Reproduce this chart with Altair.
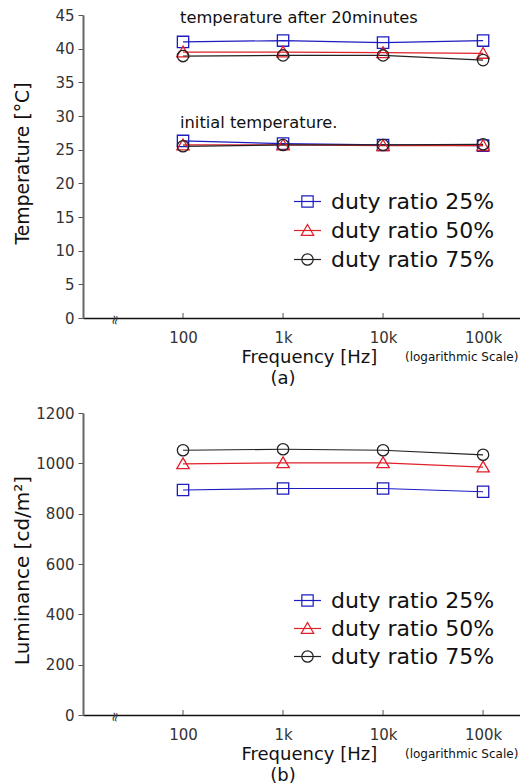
import altair as alt
import pandas as pd

# Frequencies (Hz) and their tick labels
freqs = [100, 1000, 10000, 100000]
freq_labels = ["100", "1k", "10k", "100k"]

series = ["duty ratio 25%", "duty ratio 50%", "duty ratio 75%"]
colors = ["#1c1cc0", "#e0202a", "#222222"]

# Open marker outlines as SVG paths in the [-1, 1] symbol box
marker_paths = [
    "M-0.42,-0.42H0.42V0.42H-0.42Z",
    "M-0.46,0.36L0,-0.44L0.46,0.36Z",
    "M-0.42,0A0.42,0.42,0,1,1,0.42,0A0.42,0.42,0,1,1,-0.42,0Z",
]

# Panel (a): temperature [deg C]
temp_after_25 = [41.0, 41.2, 40.9, 41.2]
temp_after_50 = [39.5, 39.5, 39.4, 39.3]
temp_after_75 = [38.9, 39.0, 39.0, 38.3]
temp_init_25 = [26.3, 25.9, 25.7, 25.6]
temp_init_50 = [25.7, 25.7, 25.6, 25.6]
temp_init_75 = [25.5, 25.7, 25.7, 25.8]

# Panel (b): luminance [cd/m2]
lum_25 = [894, 900, 900, 887]
lum_50 = [998, 1002, 1002, 985]
lum_75 = [1052, 1056, 1052, 1034]

notes = ["temperature after 20minutes", "initial temperature."]
note_values = [44.5, 28.9]

W = 437
H_A = 303
H_B = 302
FONT = "DejaVu Sans"
X_DOMAIN = [10, 234000]


def rows(stage, lists):
    out = []
    for name, vals in zip(series, lists):
        for f, v in zip(freqs, vals):
            out.append({"freq": f, "value": v, "series": name, "stage": stage})
    return out


temp_df = pd.DataFrame(
    rows("after", [temp_after_25, temp_after_50, temp_after_75])
    + rows("initial", [temp_init_25, temp_init_50, temp_init_75])
)
lum_df = pd.DataFrame(rows("steady", [lum_25, lum_50, lum_75]))

label_expr = (
    "[" + ",".join("'%s'" % s for s in freq_labels) + "]"
    + "[indexof([" + ",".join(str(f) for f in freqs) + "], datum.value)]"
)


def legend(legend_y, row_pad, show_labels):
    return alt.Legend(
        orient="none",
        legendX=210,
        legendY=legend_y,
        title=None,
        labelFont=FONT,
        labelFontSize=22,
        labelColor="#111111",
        labelOpacity=1 if show_labels else 0,
        labelOffset=9,
        labelLimit=400,
        symbolSize=729,
        symbolStrokeWidth=1.2,
        rowPadding=row_pad,
    )


def panel(df, height, y_domain, y_step, y_title, title_size, title_y,
          legend_y, row_pad, letter, notes_df=None):
    x = alt.X(
        "freq:Q",
        scale=alt.Scale(type="log", domain=X_DOMAIN),
        axis=alt.Axis(
            values=freqs,
            labelExpr=label_expr,
            tickSize=0,
            grid=False,
            labelFont=FONT,
            labelFontSize=15,
            labelColor="#333333",
            labelPadding=12,
            domainColor="#111111",
            domainWidth=1.5,
            title="Frequency [Hz]",
            titleFont=FONT,
            titleFontSize=18,
            titleFontWeight="normal",
            titleColor="#111111",
            titleAlign="left",
            titleBaseline="middle",
            titleX=158,
            titleY=39,
        ),
    )
    y = alt.Y(
        "value:Q",
        scale=alt.Scale(domain=y_domain, nice=False, zero=True),
        axis=alt.Axis(
            values=list(range(y_domain[0], y_domain[1] + 1, y_step)),
            format="d",
            grid=False,
            tickSize=5,
            tickColor="#555555",
            labelFont=FONT,
            labelFontSize=15,
            labelColor="#333333",
            labelPadding=4,
            labelOverlap=False,
            domainColor="#666666",
            domainWidth=2,
            title=y_title,
            titleFont=FONT,
            titleFontSize=title_size,
            titleFontWeight="normal",
            titleColor="#111111",
            titleAlign="center",
            titleBaseline="middle",
            titleX=-61,
            titleY=title_y,
        ),
    )
    color_scale = alt.Scale(domain=series, range=colors)

    lines = alt.Chart(df).mark_line(strokeWidth=1.2).encode(
        x=x,
        y=y,
        color=alt.Color("series:N", scale=color_scale, legend=legend(legend_y, row_pad, True)),
        detail="stage:N",
    )
    points = alt.Chart(df).mark_point(filled=False, size=729, strokeWidth=1.3, opacity=1).encode(
        x=x,
        y=y,
        color=alt.Color("series:N", scale=color_scale, legend=legend(legend_y, row_pad, False)),
        shape=alt.Shape("series:N", scale=alt.Scale(domain=series, range=marker_paths),
                        legend=legend(legend_y, row_pad, False)),
    )

    ticks = alt.Chart(pd.DataFrame({"freq": freqs})).mark_rule(color="#555555", strokeWidth=1).encode(
        x=alt.X("freq:Q", scale=alt.Scale(type="log", domain=X_DOMAIN)),
        y=alt.value(height - 5),
        y2=alt.value(height),
    )
    axis_break = alt.Chart(pd.DataFrame({"t": ["≈"]})).mark_text(
        font=FONT, fontSize=13, angle=100, color="#333333"
    ).encode(text="t:N", x=alt.value(32), y=alt.value(height + 2))
    scale_note = alt.Chart(pd.DataFrame({"t": ["(logarithmic Scale)"]})).mark_text(
        font=FONT, fontSize=12, align="left", baseline="middle", color="#111111"
    ).encode(text="t:N", x=alt.value(322), y=alt.value(height + 39))
    panel_letter = alt.Chart(pd.DataFrame({"t": [letter]})).mark_text(
        font=FONT, fontSize=18, align="center", baseline="middle", color="#111111"
    ).encode(text="t:N", x=alt.value(200), y=alt.value(height + 61))

    layers = [ticks, lines, points, axis_break, scale_note, panel_letter]
    if notes_df is not None:
        note_marks = alt.Chart(notes_df).mark_text(
            font=FONT, fontSize=16.3, align="left", baseline="middle", dx=-3, color="#111111"
        ).encode(x=x, y=y, text="label:N")
        layers.append(note_marks)
    return (
        alt.layer(*layers)
        .resolve_legend(color="independent", shape="independent")
        .properties(width=W, height=height)
    )


notes_df = pd.DataFrame({"label": notes, "freq": [100, 100], "value": note_values})

top = panel(temp_df, H_A, [0, 45], 5, "Temperature [°C]", 18.8, 148, 172, 3, "(a)", notes_df)
bottom = panel(lum_df, H_B, [0, 1200], 200, "Luminance [cd/m²]", 20, 157, 173, 2, "(b)")

chart = (
    alt.vconcat(top, bottom, spacing=95, bounds="flush")
    .resolve_scale(color="independent", shape="independent")
    .properties(padding={"left": 12, "top": 8, "right": 0, "bottom": 4}, background="white")
    .configure_view(stroke=None)
)

chart.save("out.html", embed_options={"renderer": "svg", "actions": False})
